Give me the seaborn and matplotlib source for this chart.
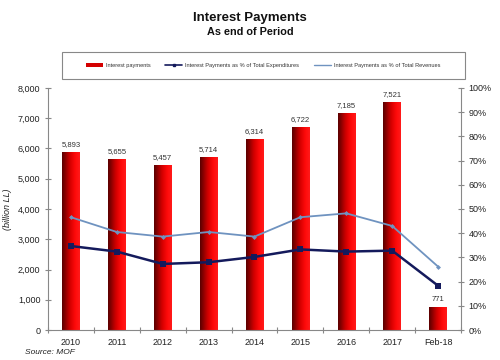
import numpy as np
import pandas as pd
import matplotlib
matplotlib.use("Agg")
import matplotlib.pyplot as plt
from matplotlib.colors import LinearSegmentedColormap
from matplotlib.lines import Line2D
from matplotlib.patches import Patch, Rectangle
import seaborn as sns

# ---- data ----
categories = ["2010", "2011", "2012", "2013", "2014", "2015", "2016", "2017", "Feb-18"]
interest_payments = [5893, 5655, 5457, 5714, 6314, 6722, 7185, 7521, 771]
pct_expenditures = [34.7, 32.4, 27.3, 28.0, 30.2, 33.3, 32.4, 32.8, 18.3]
pct_revenues = [46.6, 40.5, 38.6, 40.5, 38.6, 46.6, 48.2, 43.0, 26.2]
bar_labels = ["5,893", "5,655", "5,457", "5,714", "6,314", "6,722", "7,185", "7,521", "771"]

sns.set_theme(style="white")
plt.rcParams["font.family"] = ["Liberation Sans", "DejaVu Sans"]

df = pd.DataFrame({
    "cat": categories,
    "pos": np.arange(len(categories)),
    "ip": interest_payments,
    "exp": pct_expenditures,
    "rev": pct_revenues,
})

fig = plt.figure(figsize=(5, 3.6), dpi=100)
ax = fig.add_axes([0.096, 0.0833, 0.826, 0.6723])

sns.barplot(data=df, x="cat", y="ip", color="#e00000", width=0.38, ax=ax,
            saturation=1, edgecolor="none")

# gradient fill on bars
cmap = LinearSegmentedColormap.from_list(
    "redgrad", [(0.0, "#5a0000"), (0.45, "#d40000"), (0.75, "#ff0a0a"), (1.0, "#ff1a1a")])
grad = np.linspace(0, 1, 64).reshape(1, -1)
for p in list(ax.patches):
    x0, y0 = p.get_x(), p.get_y()
    w, h = p.get_width(), p.get_height()
    im = ax.imshow(grad, cmap=cmap, aspect="auto", extent=[x0, x0 + w, y0, y0 + h],
                   zorder=p.get_zorder() + 0.1, interpolation="bilinear")
    im.set_clip_path(p)

for i, (v, lab) in enumerate(zip(interest_payments, bar_labels)):
    ax.text(i, v + 130, lab, ha="center", va="bottom", fontsize=5.5, color="#333333")

ax.set_xlim(-0.5, len(categories) - 0.5)
ax.set_ylim(0, 8000)
ax.set_yticks(np.arange(0, 8001, 1000))
ax.set_yticklabels([f"{v:,}" for v in range(0, 8001, 1000)])
ax.set_xlabel("")
ax.set_ylabel("(billion LL)", fontsize=6.5, style="italic", color="#222222", labelpad=4)
ax.tick_params(axis="y", direction="inout", length=5, width=0.8, color="#888888",
               labelsize=6.5, labelcolor="#222222", pad=3, left=True)
ax.tick_params(axis="x", which="major", length=0, labelsize=6.5, labelcolor="#222222", pad=6)
ax.set_xticks(np.arange(-0.5, len(categories)), minor=True)
ax.tick_params(axis="x", which="minor", direction="inout", length=5, width=0.8,
               color="#888888", bottom=True)
for s in ["top", "right"]:
    ax.spines[s].set_visible(False)
for s in ["left", "bottom"]:
    ax.spines[s].set_color("#888888")
    ax.spines[s].set_linewidth(0.8)

ax2 = ax.twinx()
line_df = pd.DataFrame({"pos": df["pos"], "exp": df["exp"], "rev": df["rev"]})
sns.lineplot(data=line_df, x="pos", y="rev", ax=ax2, color="#6f93c0", linewidth=1.3,
             marker="D", markersize=2.5, markeredgewidth=0)
sns.lineplot(data=line_df, x="pos", y="exp", ax=ax2, color="#141a5c", linewidth=1.8,
             marker="s", markersize=4, markeredgewidth=0)
ax2.set_ylim(0, 100)
ax2.set_xlim(-0.5, len(categories) - 0.5)
ax2.set_yticks(np.arange(0, 101, 10))
ax2.set_yticklabels([f"{v}%" for v in range(0, 101, 10)])
ax2.set_ylabel("")
ax2.set_xlabel("")
ax2.tick_params(axis="y", direction="inout", length=5, width=0.8, color="#888888",
                labelsize=6.5, labelcolor="#222222", pad=3, right=True)
for s in ["top", "left", "bottom"]:
    ax2.spines[s].set_visible(False)
ax2.spines["right"].set_color("#888888")
ax2.spines["right"].set_linewidth(0.8)

# titles
fig.text(0.5, 1 - 18 / 360, "Interest Payments", ha="center", va="center",
         fontsize=9.5, fontweight="bold", color="#111111")
fig.text(0.5, 1 - 32 / 360, "As end of Period", ha="center", va="center",
         fontsize=7.8, fontweight="bold", color="#111111")

# legend box
fig.patches.append(Rectangle((62 / 500, 1 - 79 / 360), 403 / 500, 27 / 360,
                             transform=fig.transFigure, facecolor="white",
                             edgecolor="#888888", linewidth=0.8, zorder=0))

handles = [
    Patch(facecolor="#d40000", edgecolor="none"),
    Line2D([0], [0], color="#141a5c", lw=1.2, marker="s", markersize=1.8),
    Line2D([0], [0], color="#6f93c0", lw=1.0),
]
labels = ["Interest payments", "Interest Payments as % of Total Expenditures",
          "Interest Payments as % of Total Revenues"]
leg = fig.legend(handles, labels, loc="center", ncol=3,
                 bbox_to_anchor=(263 / 500, 1 - 65.5 / 360),
                 fontsize=4.1, frameon=False, handlelength=3.0,
                 handleheight=0.5, handletextpad=0.5, columnspacing=2.6)
for t in leg.get_texts():
    t.set_color("#333333")

fig.text(25 / 500, 1 - 353 / 360, "Source: MOF", ha="left", va="center",
         fontsize=6, style="italic", color="#222222")

fig.savefig("out.png", dpi=100)
